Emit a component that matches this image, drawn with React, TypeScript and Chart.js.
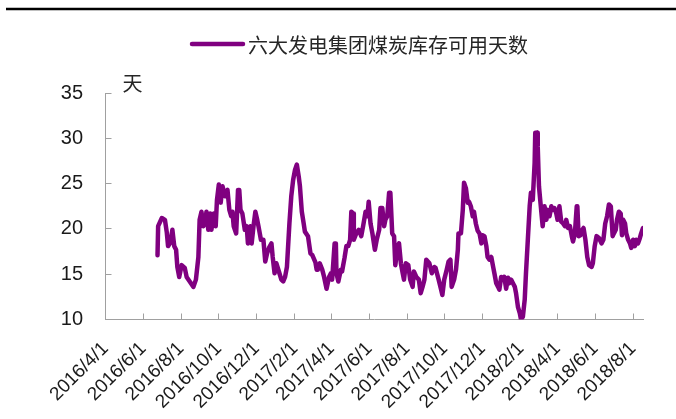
import { useEffect, useRef } from "react";
import { Chart, registerables } from "chart.js";

Chart.register(...registerables);

const seriesName = "六大发电集团煤炭库存可用天数";
const unitLabel = "天";
const lineColor = "#800080";
const originDate = "2016-04-01";
const endDate = "2018-08-17";
const yMin = 10;
const yMax = 35;
const yStep = 5;

const tickDates = [
  "2016-04-01", "2016-06-01", "2016-08-01", "2016-10-01", "2016-12-01",
  "2017-02-01", "2017-04-01", "2017-06-01", "2017-08-01", "2017-10-01",
  "2017-12-01", "2018-02-01", "2018-04-01", "2018-06-01", "2018-08-01",
];
const tickLabels = [
  "2016/4/1", "2016/6/1", "2016/8/1", "2016/10/1", "2016/12/1",
  "2017/2/1", "2017/4/1", "2017/6/1", "2017/8/1", "2017/10/1",
  "2017/12/1", "2018/2/1", "2018/4/1", "2018/6/1", "2018/8/1",
];

const dates = [
  "2016-06-24", "2016-06-25", "2016-07-01", "2016-07-06", "2016-07-09", "2016-07-11", "2016-07-15", "2016-07-18",
  "2016-07-21", "2016-07-24", "2016-07-26", "2016-07-29", "2016-08-02", "2016-08-07", "2016-08-10", "2016-08-15",
  "2016-08-21", "2016-08-25", "2016-08-29", "2016-08-31", "2016-09-03", "2016-09-06", "2016-09-09", "2016-09-11",
  "2016-09-14", "2016-09-17", "2016-09-19", "2016-09-23", "2016-09-26", "2016-09-28", "2016-10-01", "2016-10-04",
  "2016-10-07", "2016-10-11", "2016-10-15", "2016-10-18", "2016-10-21", "2016-10-23", "2016-10-25", "2016-10-29",
  "2016-11-01", "2016-11-03", "2016-11-05", "2016-11-08", "2016-11-12", "2016-11-15", "2016-11-17", "2016-11-21",
  "2016-11-23", "2016-11-26", "2016-11-29", "2016-12-02", "2016-12-04", "2016-12-08", "2016-12-12", "2016-12-15",
  "2016-12-18", "2016-12-21", "2016-12-25", "2016-12-27", "2016-12-30", "2017-01-02", "2017-01-06", "2017-01-10",
  "2017-01-13", "2017-01-16", "2017-01-19", "2017-01-23", "2017-01-26", "2017-01-29", "2017-02-01", "2017-02-04",
  "2017-02-07", "2017-02-09", "2017-02-12", "2017-02-15", "2017-02-17", "2017-02-22", "2017-02-26", "2017-03-01",
  "2017-03-06", "2017-03-08", "2017-03-10", "2017-03-13", "2017-03-17", "2017-03-20", "2017-03-24", "2017-03-28",
  "2017-03-31", "2017-04-02", "2017-04-06", "2017-04-08", "2017-04-09", "2017-04-12", "2017-04-16", "2017-04-18",
  "2017-04-22", "2017-04-25", "2017-04-28", "2017-05-01", "2017-05-03", "2017-05-06", "2017-05-07", "2017-05-11",
  "2017-05-15", "2017-05-19", "2017-05-22", "2017-05-26", "2017-05-29", "2017-05-31", "2017-06-03", "2017-06-06",
  "2017-06-10", "2017-06-13", "2017-06-17", "2017-06-19", "2017-06-22", "2017-06-25", "2017-06-27", "2017-06-30",
  "2017-07-03", "2017-07-05", "2017-07-08", "2017-07-11", "2017-07-13", "2017-07-17", "2017-07-19", "2017-07-22",
  "2017-07-25", "2017-07-27", "2017-07-30", "2017-08-03", "2017-08-06", "2017-08-10", "2017-08-12", "2017-08-16",
  "2017-08-20", "2017-08-23", "2017-08-26", "2017-08-29", "2017-09-01", "2017-09-06", "2017-09-10", "2017-09-14",
  "2017-09-16", "2017-09-21", "2017-09-25", "2017-09-27", "2017-09-30", "2017-10-04", "2017-10-07", "2017-10-10",
  "2017-10-12", "2017-10-16", "2017-10-19", "2017-10-22", "2017-10-23", "2017-10-27", "2017-10-30", "2017-11-01",
  "2017-11-04", "2017-11-07", "2017-11-09", "2017-11-12", "2017-11-15", "2017-11-17", "2017-11-20", "2017-11-23",
  "2017-11-26", "2017-11-29", "2017-12-01", "2017-12-04", "2017-12-07", "2017-12-09", "2017-12-12", "2017-12-15",
  "2017-12-18", "2017-12-20", "2017-12-23", "2017-12-26", "2017-12-28", "2017-12-31", "2018-01-03", "2018-01-05",
  "2018-01-08", "2018-01-11", "2018-01-13", "2018-01-16", "2018-01-19", "2018-01-22", "2018-01-24", "2018-01-27",
  "2018-01-30", "2018-02-01", "2018-02-04", "2018-02-07", "2018-02-09", "2018-02-12", "2018-02-15", "2018-02-17",
  "2018-02-20", "2018-02-23", "2018-02-24", "2018-02-27", "2018-02-28", "2018-03-02", "2018-03-04", "2018-03-07",
  "2018-03-08", "2018-03-11", "2018-03-14", "2018-03-16", "2018-03-19", "2018-03-22", "2018-03-24", "2018-03-27",
  "2018-03-30", "2018-04-01", "2018-04-04", "2018-04-07", "2018-04-10", "2018-04-13", "2018-04-15", "2018-04-18",
  "2018-04-21", "2018-04-24", "2018-04-26", "2018-04-29", "2018-05-02", "2018-05-03", "2018-05-05", "2018-05-08",
  "2018-05-11", "2018-05-13", "2018-05-16", "2018-05-19", "2018-05-22", "2018-05-26", "2018-05-28", "2018-05-31",
  "2018-06-03", "2018-06-07", "2018-06-11", "2018-06-14", "2018-06-17", "2018-06-20", "2018-06-23", "2018-06-26",
  "2018-06-29", "2018-07-01", "2018-07-04", "2018-07-06", "2018-07-09", "2018-07-12", "2018-07-14", "2018-07-16",
  "2018-07-19", "2018-07-21", "2018-07-24", "2018-07-27", "2018-07-29", "2018-08-01", "2018-08-04", "2018-08-06",
  "2018-08-09", "2018-08-12", "2018-08-14", "2018-08-17",
];

const values = [
  17.1, 20.3, 21.2, 21.0, 19.6, 18.1, 18.5, 19.9,
  18.1, 17.7, 15.8, 14.7, 16.0, 15.7, 14.7, 14.2,
  13.6, 14.4, 16.9, 21.0, 21.9, 20.3, 20.7, 21.9,
  19.9, 21.7, 19.9, 21.7, 20.3, 23.2, 24.9, 22.9,
  24.7, 23.6, 24.3, 22.1, 21.4, 21.9, 20.3, 19.5,
  24.3, 24.3, 22.1, 21.7, 19.9, 20.3, 18.4, 20.3,
  18.4, 20.3, 21.9, 21.0, 20.3, 18.8, 18.8, 16.4,
  17.3, 17.9, 18.4, 16.9, 15.1, 16.2, 15.3, 14.4,
  14.2, 14.7, 15.8, 20.6, 23.6, 25.4, 26.5, 27.1,
  25.8, 24.7, 21.9, 20.6, 19.7, 19.2, 17.3, 17.1,
  16.3, 15.5, 15.5, 16.2, 15.5, 14.7, 13.4, 14.7,
  15.1, 14.4, 18.4, 18.4, 15.1, 14.2, 15.5, 15.3,
  16.8, 18.1, 18.1, 18.8, 21.9, 21.7, 18.8, 19.5,
  19.9, 19.2, 20.3, 21.9, 21.4, 23.0, 20.6, 19.5,
  17.7, 18.8, 19.9, 22.3, 22.3, 20.3, 21.0, 21.4,
  24.0, 24.0, 19.5, 19.2, 16.0, 18.1, 18.4, 16.2,
  15.1, 14.4, 16.2, 16.0, 14.4, 13.6, 15.3, 14.7,
  14.4, 12.9, 13.6, 14.4, 16.6, 16.2, 15.1, 15.8,
  15.7, 14.4, 13.3, 12.7, 14.4, 15.5, 16.4, 16.6,
  13.6, 14.4, 15.5, 17.7, 19.5, 19.5, 22.1, 25.1,
  24.5, 22.9, 23.0, 22.5, 21.4, 21.9, 20.6, 19.8,
  19.5, 18.4, 19.3, 19.2, 18.1, 16.9, 16.6, 16.9,
  15.8, 15.1, 14.0, 13.6, 13.3, 14.7, 14.4, 14.7,
  13.4, 14.6, 14.0, 14.4, 14.0, 13.6, 12.9, 11.4,
  10.7, 10.0, 10.3, 12.2, 15.1, 18.8, 22.5, 24.0,
  23.2, 27.3, 30.6, 30.6, 29.1, 24.7, 23.2, 21.0,
  20.3, 22.5, 21.0, 22.1, 21.4, 22.5, 22.1, 22.3,
  21.7, 21.0, 22.5, 20.8, 20.6, 20.3, 21.0, 20.1,
  20.3, 19.2, 18.6, 19.5, 22.5, 22.5, 19.2, 19.3,
  19.9, 20.1, 18.8, 16.9, 16.0, 15.8, 16.2, 18.1,
  19.2, 19.0, 18.4, 18.8, 20.6, 21.4, 22.7, 22.5,
  19.2, 19.5, 19.9, 21.0, 21.9, 21.7, 19.3, 21.0,
  20.6, 19.5, 18.8, 18.4, 17.9, 18.8, 18.1, 18.8,
  18.4, 19.0, 19.5, 20.1,
];

function dayIndex(s: string): number {
  const [y, m, d] = s.split("-").map(Number);
  const [oy, om, od] = originDate.split("-").map(Number);
  return Math.round((Date.UTC(y, m - 1, d) - Date.UTC(oy, om - 1, od)) / 86400000);
}

const overlayPlugin = {
  id: "overlay",
  afterDraw(chart: any) {
    const { ctx, chartArea } = chart;
    ctx.save();
    // top rule
    ctx.strokeStyle = "#000000";
    ctx.lineWidth = 2.5;
    ctx.beginPath();
    ctx.moveTo(6, 9);
    ctx.lineTo(676, 9);
    ctx.stroke();
    // legend
    ctx.strokeStyle = lineColor;
    ctx.lineWidth = 4.5;
    ctx.lineCap = "round";
    ctx.beginPath();
    ctx.moveTo(192, 44);
    ctx.lineTo(243, 44);
    ctx.stroke();
    ctx.fillStyle = "#262626";
    ctx.font = '20px "Noto Sans CJK SC"';
    ctx.textAlign = "left";
    ctx.textBaseline = "middle";
    ctx.fillText(seriesName, 248, 45);
    // unit label
    ctx.font = '20px "Noto Sans CJK SC"';
    ctx.textAlign = "center";
    ctx.fillText(unitLabel, chartArea.left + 27, chartArea.top - 10);
    ctx.restore();
  },
};

export default function App() {
  const ref = useRef<HTMLCanvasElement | null>(null);
  useEffect(() => {
    if (!ref.current) return;
    const tickValues = tickDates.map(dayIndex);
    const points = dates.map((d, i) => ({ x: dayIndex(d), y: values[i] }));
    const chart = new Chart(ref.current, {
      type: "line",
      data: {
        datasets: [
          {
            label: seriesName,
            data: points,
            borderColor: lineColor,
            backgroundColor: lineColor,
            borderWidth: 4.5,
            pointRadius: 0,
            tension: 0,
            borderJoinStyle: "round",
            borderCapStyle: "round",
          },
        ],
      },
      options: {
        animation: false,
        responsive: false,
        devicePixelRatio: 1,
        layout: { padding: { top: 93, right: 33, left: 0, bottom: 0 } },
        plugins: { legend: { display: false }, tooltip: { enabled: false } },
        scales: {
          x: {
            type: "linear",
            min: 0,
            max: dayIndex(endDate),
            afterBuildTicks: (scale: any) => {
              scale.ticks = tickValues.map((v) => ({ value: v }));
            },
            afterFit: (scale: any) => {
              scale.height = 99.5;
            },
            ticks: {
              autoSkip: false,
              maxRotation: 45,
              minRotation: 45,
              padding: 24,
              color: "#1a1a1a",
              font: { family: '"Liberation Sans", Arial, sans-serif', size: 19 },
              callback: (v: any) => {
                const i = tickValues.indexOf(Number(v));
                return i >= 0 ? tickLabels[i] : "";
              },
            },
            grid: { drawOnChartArea: false, tickLength: -6, color: "#a0a0a0", lineWidth: 1 },
            border: { color: "#a0a0a0", width: 1 },
          },
          y: {
            min: yMin,
            max: yMax,
            afterFit: (scale: any) => {
              scale.width = 105.5;
            },
            ticks: {
              stepSize: yStep,
              padding: 28.5,
              color: "#1a1a1a",
              font: { family: '"Liberation Sans", Arial, sans-serif', size: 20 },
            },
            grid: { drawOnChartArea: false, tickLength: -6, color: "#a0a0a0", lineWidth: 1 },
            border: { color: "#a0a0a0", width: 1 },
          },
        },
      },
      plugins: [overlayPlugin],
    });
    return () => chart.destroy();
  }, []);
  return (
    <div style={{ position: "absolute", left: 0, top: 0, width: 676, height: 419, background: "#fff" }}>
      <canvas ref={ref} width={676} height={419} style={{ display: "block" }} />
    </div>
  );
}
